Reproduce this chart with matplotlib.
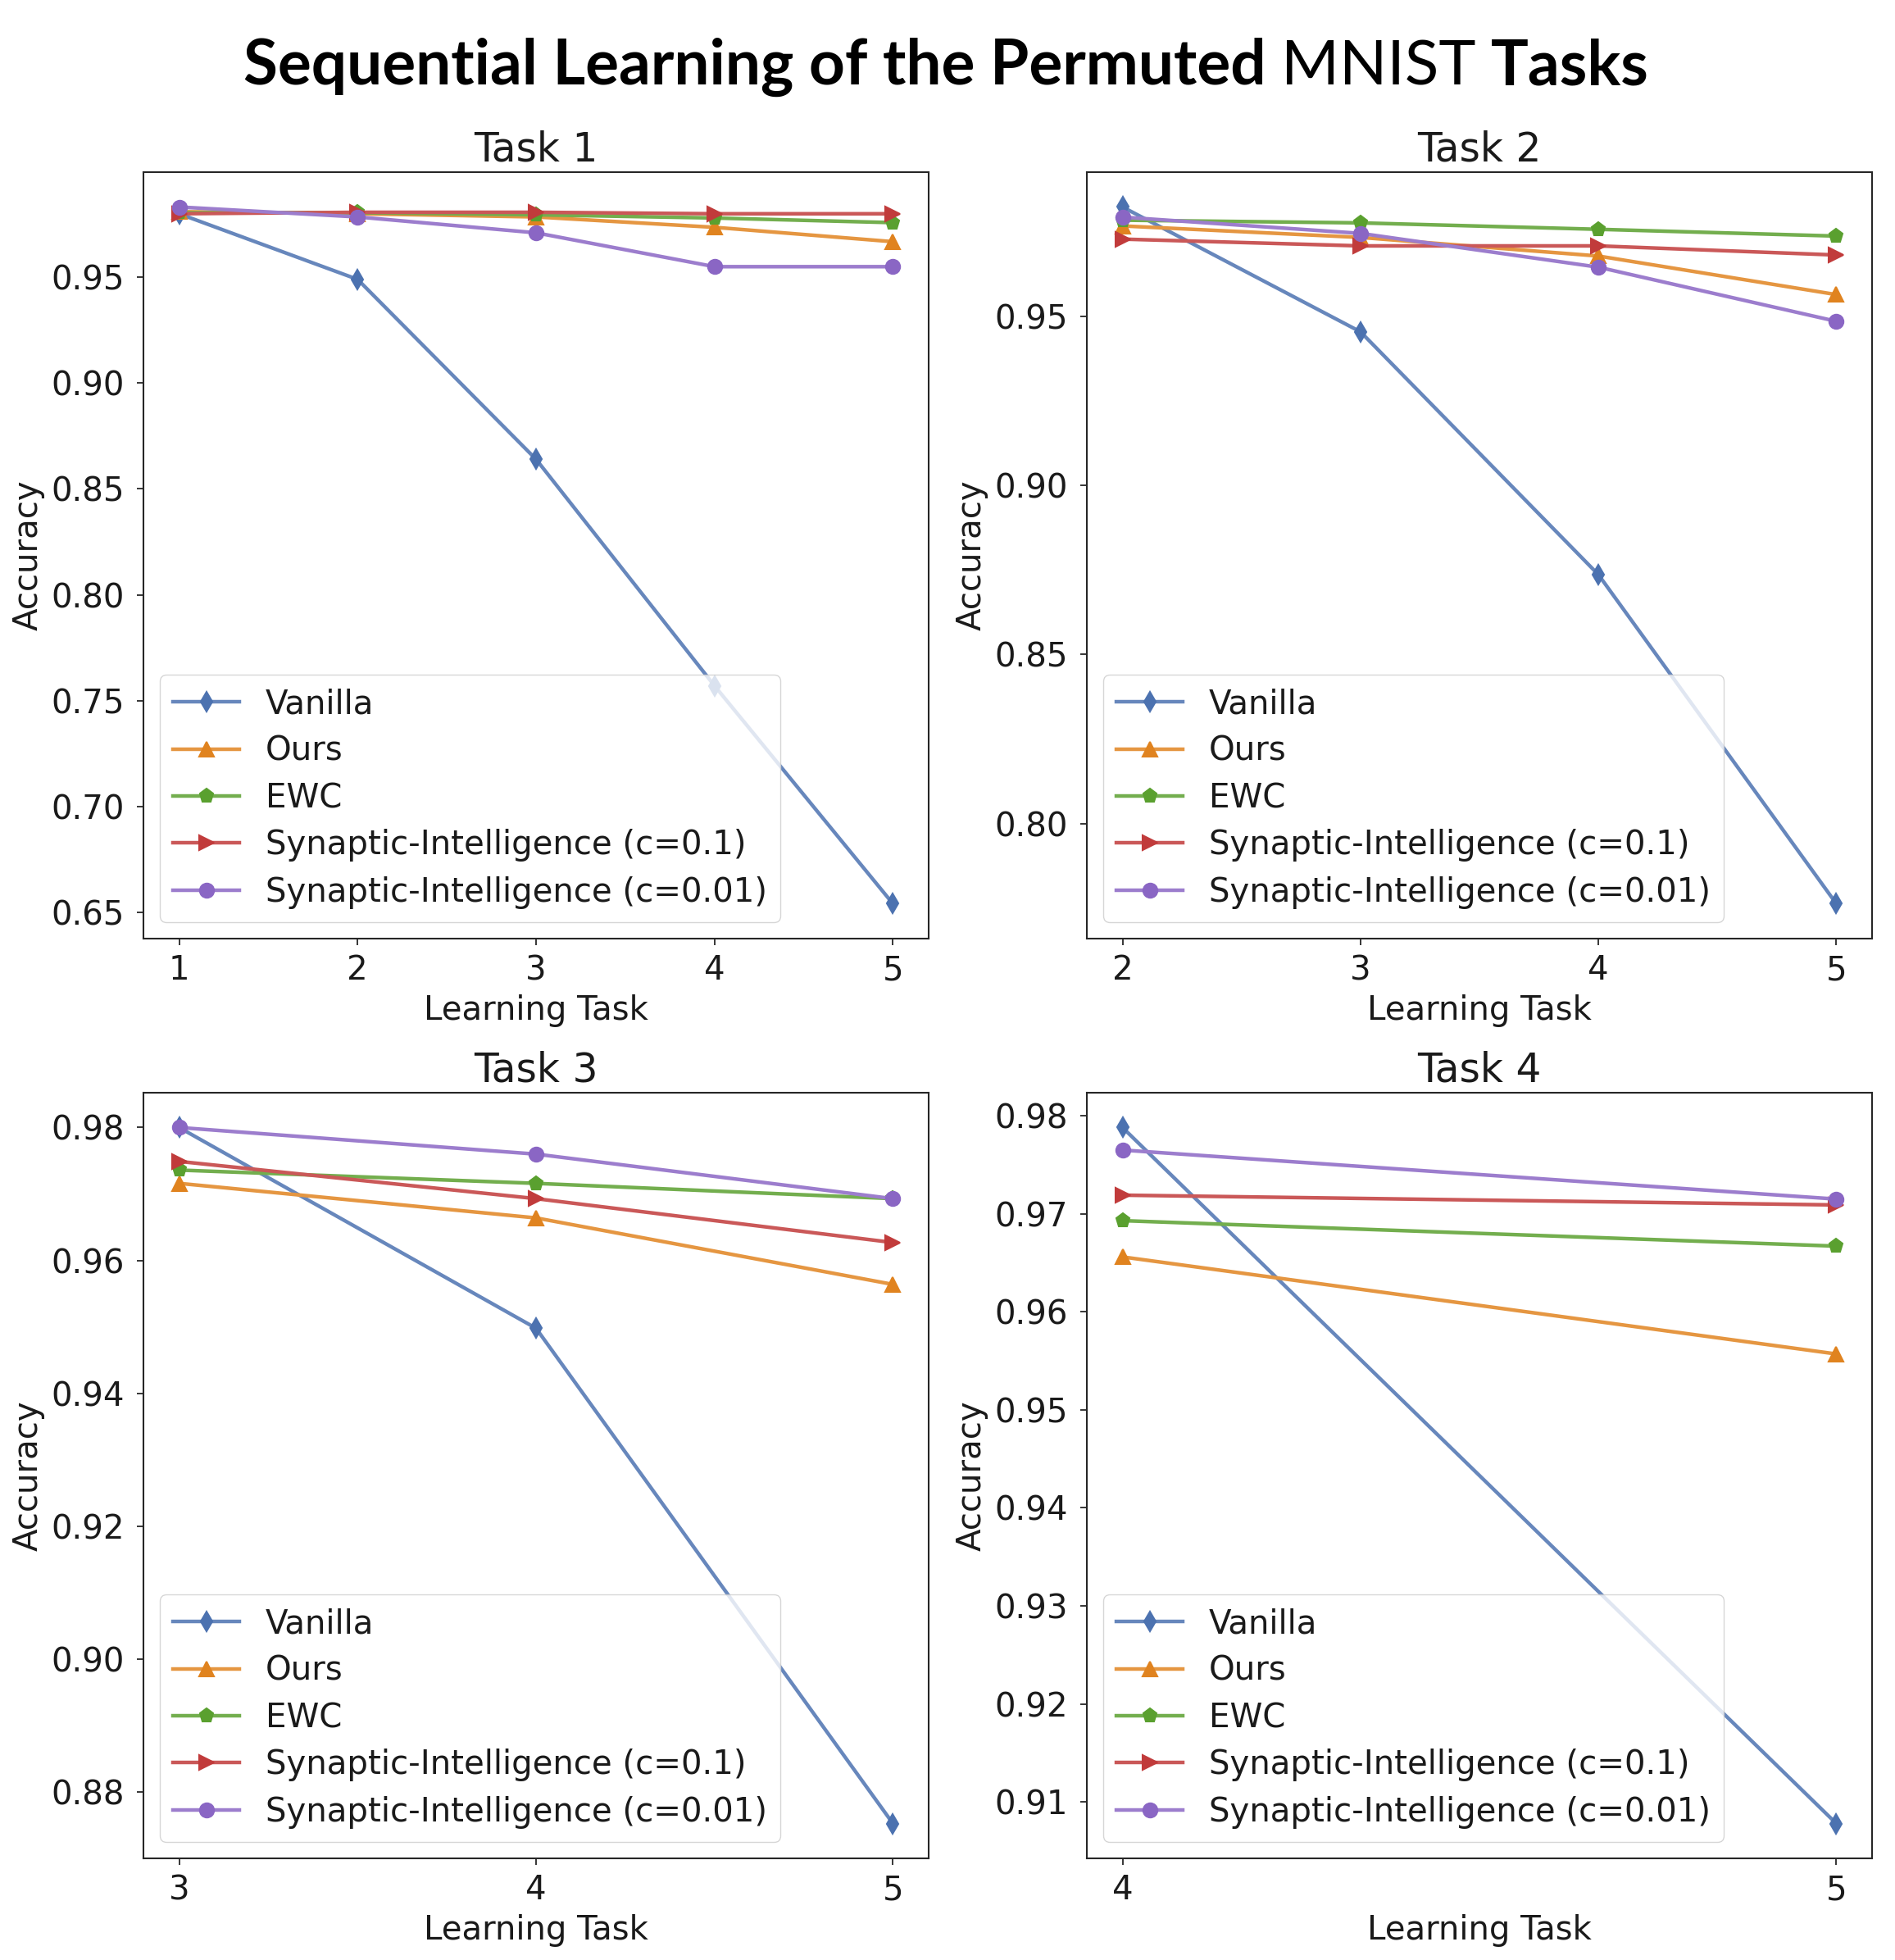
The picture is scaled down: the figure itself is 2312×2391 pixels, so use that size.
import matplotlib
matplotlib.use("Agg")
import matplotlib.pyplot as plt
from matplotlib.ticker import FixedLocator, MultipleLocator
from matplotlib.colors import to_rgb

# ---------------- data ----------------
methods = ["Vanilla", "Ours", "EWC",
           "Synaptic-Intelligence (c=0.1)", "Synaptic-Intelligence (c=0.01)"]

task_titles = ["Task 1", "Task 2", "Task 3", "Task 4"]

task1_x = [1, 2, 3, 4, 5]
task1_vanilla = [0.980, 0.949, 0.864, 0.757, 0.654]
task1_ours = [0.981, 0.980, 0.9785, 0.9736, 0.9668]
task1_ewc = [0.9805, 0.9805, 0.9795, 0.9780, 0.9758]
task1_si01 = [0.9800, 0.9807, 0.9807, 0.9800, 0.9800]
task1_si001 = [0.9832, 0.9785, 0.9710, 0.9550, 0.9550]

task2_x = [2, 3, 4, 5]
task2_vanilla = [0.9823, 0.9454, 0.8736, 0.7763]
task2_ours = [0.9767, 0.9733, 0.9678, 0.9564]
task2_ewc = [0.9784, 0.9776, 0.9757, 0.9737]
task2_si01 = [0.9728, 0.9708, 0.9708, 0.9681]
task2_si001 = [0.9793, 0.9745, 0.9645, 0.9485]

task3_x = [3, 4, 5]
task3_vanilla = [0.9800, 0.9498, 0.8753]
task3_ours = [0.9716, 0.9664, 0.9564]
task3_ewc = [0.9736, 0.9716, 0.9693]
task3_si01 = [0.9749, 0.9693, 0.9627]
task3_si001 = [0.9800, 0.9760, 0.9693]

task4_x = [4, 5]
task4_vanilla = [0.9788, 0.9078]
task4_ours = [0.9656, 0.9557]
task4_ewc = [0.9693, 0.9667]
task4_si01 = [0.9719, 0.9709]
task4_si001 = [0.9765, 0.9715]

tasks = [
    (task1_x, [task1_vanilla, task1_ours, task1_ewc, task1_si01, task1_si001]),
    (task2_x, [task2_vanilla, task2_ours, task2_ewc, task2_si01, task2_si001]),
    (task3_x, [task3_vanilla, task3_ours, task3_ewc, task3_si01, task3_si001]),
    (task4_x, [task4_vanilla, task4_ours, task4_ewc, task4_si01, task4_si001]),
]
y_steps = [0.05, 0.05, 0.02, 0.01]

# ---------------- style ----------------
base_colors = ["#4C72B0", "#E0831F", "#5AA02F", "#C13B3B", "#8A66C4"]
markers = ["d", "^", "p", ">", "o"]


def lighten(c, f=0.15):
    r, g, b = to_rgb(c)
    return (r + (1 - r) * f, g + (1 - g) * f, b + (1 - b) * f)


W, H, DPI = 2312, 2391, 100
plt.rcParams["font.family"] = ["DejaVu Sans"]
plt.rcParams["text.color"] = "#1a1a1a"

fig = plt.figure(figsize=(W / DPI, H / DPI), dpi=DPI)
fig.patch.set_facecolor("white")

def px2fx(x):
    return x / W

def px2fy(y):
    return 1 - y / H

cols = [(175, 1133), (1326, 2284)]
rows = [(210, 1145), (1333, 2267)]
positions = []
for (t, b) in rows:
    for (l, r) in cols:
        positions.append([px2fx(l), px2fy(b), (r - l) / W, (b - t) / H])

FS = 29
spine_c = "#262626"

for i, (pos, (xs, series), step, title) in enumerate(zip(positions, tasks, y_steps, task_titles)):
    ax = fig.add_axes(pos)
    for ys, name, c, m in zip(series, methods, base_colors, markers):
        ax.plot(xs, ys, color=lighten(c), lw=3.2, marker=m, ms=12.5,
                mfc=c, mec=c, mew=1.5, label=name)
    ax.xaxis.set_major_locator(FixedLocator(xs))
    ax.yaxis.set_major_locator(MultipleLocator(step))
    ax.yaxis.set_major_formatter(matplotlib.ticker.FormatStrFormatter("%.2f"))
    ax.tick_params(axis="both", which="major", labelsize=FS, length=6, width=1.3,
                   color=spine_c, labelcolor="#1a1a1a")
    ax.tick_params(axis="y", pad=10.5)
    ax.tick_params(axis="x", pad=8)
    for s in ax.spines.values():
        s.set_linewidth(1.5)
        s.set_color(spine_c)
    ax.set_title(title, fontsize=35, pad=10, color="#1a1a1a")
    ax.set_xlabel("Learning Task", fontsize=FS, labelpad=6, color="#1a1a1a")
    ax.set_ylabel("Accuracy", fontsize=FS, labelpad=6, color="#1a1a1a")
    leg = ax.legend(loc="lower left", fontsize=FS, frameon=True, fancybox=True,
                    framealpha=0.8, edgecolor="0.8", handlelength=2.0,
                    borderaxespad=0.5, labelspacing=0.43)
    for t in leg.get_texts():
        t.set_color("#1a1a1a")

# ---------------- title with mixed weights ----------------
fig.canvas.draw()
rend = fig.canvas.get_renderer()
tfam = ["Lato", "DejaVu Sans"]
pieces = [("Sequential Learning of the Permuted", "bold"), ("MNIST", "normal"), ("Tasks", "bold")]
target_w = 2012 - 297
center_x = (2012 + 297) / 2
base_y = px2fy(103)


def measure(size):
    ws = []
    for s, w in pieces:
        t = fig.text(0, 0, s, fontsize=size, fontweight=w, family=tfam)
        ws.append(t.get_window_extent(rend).width)
        t.remove()
    t1 = fig.text(0, 0, "a a", fontsize=size, fontweight="bold", family=tfam)
    t2 = fig.text(0, 0, "aa", fontsize=size, fontweight="bold", family=tfam)
    sp = t1.get_window_extent(rend).width - t2.get_window_extent(rend).width
    t1.remove(); t2.remove()
    return ws, sp

ws, sp = measure(60)
tot = sum(ws) + 2 * sp
size = 60 * target_w / tot
ws, sp = measure(size)
tot = sum(ws) + 2 * sp
x = center_x - tot / 2
for (s, w), wd in zip(pieces, ws):
    fig.text(px2fx(x), base_y, s, fontsize=size, fontweight=w, family=tfam,
             va="baseline", ha="left", color="black")
    x += wd + sp

fig.savefig("out.png", dpi=DPI, facecolor="white")
